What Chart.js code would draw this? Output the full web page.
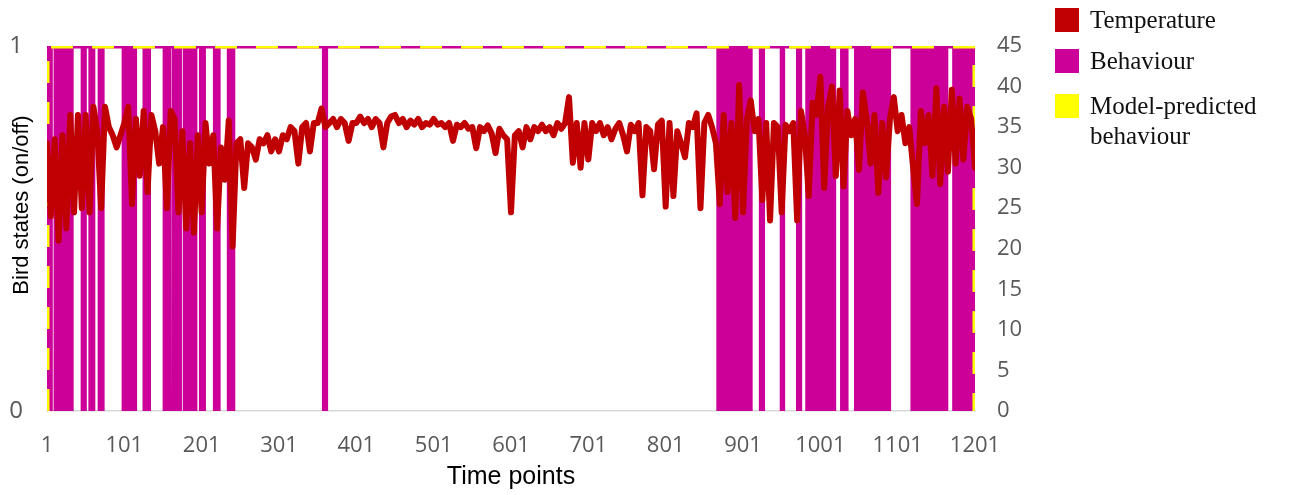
<!DOCTYPE html>
<html>
<head>
<meta charset="utf-8">
<script src="https://cdn.jsdelivr.net/npm/chart.js@4.4.0/dist/chart.umd.min.js"></script>
<style>
  body { margin: 0; background: #fff; }
  #wrap { position: relative; width: 1290px; height: 495px; }
  #chart { position: absolute; left: 0; top: 0; }
  #legend { position: absolute; left: 1055px; top: 0; font-family: "Liberation Serif", "Times New Roman", serif; font-size: 25px; color: #111; }
  .item { position: absolute; left: 0; white-space: nowrap; }
  .swatch { position: absolute; left: 0; width: 24px; height: 24px; }
  .text { position: absolute; left: 35px; line-height: 30px; }
</style>
</head>
<body>
<div id="wrap">
  <canvas id="chart" width="1290" height="495"></canvas>
  <div id="legend"></div>
</div>
<script>
// axis ticks
const xTicks = [1, 101, 201, 301, 401, 501, 601, 701, 801, 901, 1001, 1101, 1201];
const stateTicks = [0, 1];
const tempTicks = [0, 5, 10, 15, 20, 25, 30, 35, 40, 45];
const xTitle = "Time points";
const yTitle = "Bird states (on/off)";

// temperature, sampled every 5 time points from t = 1
const tempFirst = 1;
const tempEvery = 5;
const temperature = [
  33, 24, 33.5, 21, 34, 22.5, 36.5, 24.5, 36.5, 25,
  36.5, 24.5, 37.5, 34.5, 25, 37.5, 35, 34, 32.5, 34,
  35.5, 37.5, 25.5, 36, 29, 37, 27, 36.5, 34.5, 30.5,
  35, 25, 37, 36, 24.5, 34.5, 22.5, 33, 22, 34,
  24.5, 35.5, 30.5, 34, 22.5, 32.5, 28.5, 35.8, 20.3, 33,
  33.5, 27.5, 33, 32.5, 31, 33.5, 33, 34, 32, 33.5,
  32, 34, 33.5, 35, 34.5, 30.5, 35, 35.5, 32, 35.5,
  35.5, 37.3, 35, 35.5, 36, 35, 36, 35.5, 33.3, 35.5,
  35.5, 36.3, 35.5, 36, 35, 36, 35.5, 32.5, 35.5, 36.3,
  36.5, 35.5, 36, 35, 35.8, 35.3, 36, 35, 35.5, 35.3,
  36, 35.3, 35.5, 35, 35.5, 33.3, 35.3, 35, 35.5, 34.8,
  35, 32.4, 35, 34.5, 35.2, 34.2, 31.8, 34.8, 34, 33.5,
  24.5, 34, 34.5, 32.5, 35, 33.5, 35, 34.5, 35.3, 34.5,
  35, 34, 35.5, 34.8, 35.5, 38.7, 30.6, 35.5, 30, 35.5,
  31, 35.5, 34.5, 35.5, 34, 35, 33.5, 34.8, 35.5, 34,
  32, 35.3, 34.5, 35.5, 26.6, 35, 34.5, 29.8, 35.3, 35.8,
  25.2, 35.5, 26.5, 34.5, 33, 31.3, 35.5, 35, 36.7, 25,
  35.5, 36.5, 35, 33, 25.5, 36.5, 27, 35.5, 23.8, 40.2,
  24.5, 36, 38.3, 34.5, 36, 26, 35.5, 23.5, 35.5, 35,
  24.5, 35.3, 34.5, 35.5, 23.5, 37, 34, 26.5, 38, 36.5,
  41.2, 27.5, 37.5, 40, 29, 39.5, 27.7, 37, 34, 36,
  29.7, 39.3, 36, 30.5, 36.5, 26.9, 35.5, 28.8, 36, 38.7,
  34.5, 36.5, 33, 35, 30, 25.5, 37, 33, 36.5, 29,
  39.8, 28, 37.5, 29.5, 39.6, 30.5, 38.5, 31, 37.5, 36, 30
];

// behaviour "on" periods (time points)
const behaviourOnStart = [1, 10, 18, 27, 45, 55, 67, 98, 125, 151, 163, 177, 198, 216, 234, 357,
  867, 891, 922, 949, 970, 982, 1027, 1045, 1060, 1069, 1118, 1127, 1151, 1172];
const behaviourOnEnd = [8, 17, 26, 35, 52, 63, 75, 117, 135, 161, 175, 195, 206, 225, 244, 364,
  890, 913, 929, 955, 977, 1021, 1037, 1059, 1068, 1092, 1126, 1150, 1166, 1201];

// model-predicted behaviour
const predictedTimes = [1, 1, 1201, 1201];
const predictedStates = [0, 1, 1, 0];

const legendLabels = ["Temperature", "Behaviour", "Model-predicted\nbehaviour"];
const legendColors = ["#C00000", "#CC0099", "#FFFF00"];

const tempPoints = temperature.map((v, i) => ({ x: tempFirst + i * tempEvery, y: v }));
const predictedPoints = predictedTimes.map((t, i) => ({ x: t, y: predictedStates[i] }));
const behaviourPoints = [];
behaviourOnStart.forEach((s, i) => {
  const e = behaviourOnEnd[i];
  behaviourPoints.push({ x: s - 0.5, y: 0 }, { x: s - 0.5, y: 1 }, { x: e + 0.5, y: 1 }, { x: e + 0.5, y: 0 });
});

// legend as html text
const legend = document.getElementById("legend");
const legendTops = [8, 49, 94];
legendLabels.forEach((lab, i) => {
  const item = document.createElement("div");
  item.className = "item";
  item.style.top = legendTops[i] + "px";
  item.innerHTML = '<div class="swatch" style="background:' + legendColors[i] + '"></div>' +
    '<div class="text" style="top:-3px">' + lab.replace("\n", "<br>") + '</div>';
  legend.appendChild(item);
});

// rotated left title, placed like the original
const leftTitle = {
  id: "leftTitle",
  afterDraw(chart) {
    const ctx = chart.ctx;
    ctx.save();
    ctx.translate(22, 205);
    ctx.rotate(-Math.PI / 2);
    ctx.font = '22px "Liberation Sans", Arial, sans-serif';
    ctx.fillStyle = "#000";
    ctx.textAlign = "center";
    ctx.textBaseline = "middle";
    ctx.fillText(yTitle, 0, 0);
    ctx.restore();
  }
};

const tickFont = { family: '"Open Sans", sans-serif', size: 22 };
const plain = (v) => String(v);

new Chart(document.getElementById("chart"), {
  type: "line",
  data: {
    datasets: [
      {
        label: "Temperature",
        data: tempPoints,
        yAxisID: "y1",
        borderColor: "#C00000",
        borderWidth: 6,
        borderJoinStyle: "round",
        borderCapStyle: "round",
        pointRadius: 0,
        tension: 0,
        order: 0
      },
      {
        label: "Model-predicted behaviour",
        data: predictedPoints,
        yAxisID: "y",
        borderColor: "#FFFF00",
        borderWidth: 5,
        borderDash: [22, 19],
        pointRadius: 0,
        order: 1
      },
      {
        label: "predicted base",
        data: predictedPoints,
        yAxisID: "y",
        borderColor: "#CC0099",
        borderWidth: 5,
        pointRadius: 0,
        order: 2
      },
      {
        label: "Behaviour",
        data: behaviourPoints,
        yAxisID: "y",
        borderColor: "rgba(0,0,0,0)",
        borderWidth: 0,
        backgroundColor: "#CC0099",
        fill: "origin",
        pointRadius: 0,
        order: 3
      }
    ]
  },
  options: {
    responsive: false,
    animation: false,
    layout: { padding: { top: 46, left: 0, right: 0, bottom: 0 } },
    plugins: { legend: { display: false }, tooltip: { enabled: false } },
    scales: {
      x: {
        type: "linear",
        min: 1,
        max: 1201,
        afterBuildTicks: (s) => { s.ticks = xTicks.map((v) => ({ value: v })); },
        afterFit: (s) => { s.height = 84; },
        grid: { display: false, drawTicks: false, tickLength: 0 },
        border: { display: true, color: "#D9D9D9", width: 1.5 },
        ticks: { color: "#595959", font: tickFont, padding: 22, maxRotation: 0, autoSkip: false, callback: plain },
        title: {
          display: true,
          text: xTitle,
          color: "#000",
          font: { family: '"Liberation Sans", Arial, sans-serif', size: 25 },
          padding: { top: 0, bottom: 3 }
        }
      },
      y: {
        position: "left",
        min: 0,
        max: 1,
        afterBuildTicks: (s) => { s.ticks = stateTicks.map((v) => ({ value: v })); },
        afterFit: (s) => { s.width = 47; },
        grid: { display: false, drawTicks: false, tickLength: 0 },
        border: { display: false },
        ticks: { color: "#595959", font: { family: '"Open Sans", sans-serif', size: 24 }, padding: 24, callback: plain }
      },
      y1: {
        position: "right",
        min: 0,
        max: 45,
        afterBuildTicks: (s) => { s.ticks = tempTicks.map((v) => ({ value: v })); },
        afterFit: (s) => { s.width = 315; },
        grid: { display: false, drawTicks: false, tickLength: 0 },
        border: { display: false },
        ticks: { color: "#595959", font: tickFont, padding: 22, callback: plain }
      }
    }
  },
  plugins: [leftTitle]
});
</script>
</body>
</html>
